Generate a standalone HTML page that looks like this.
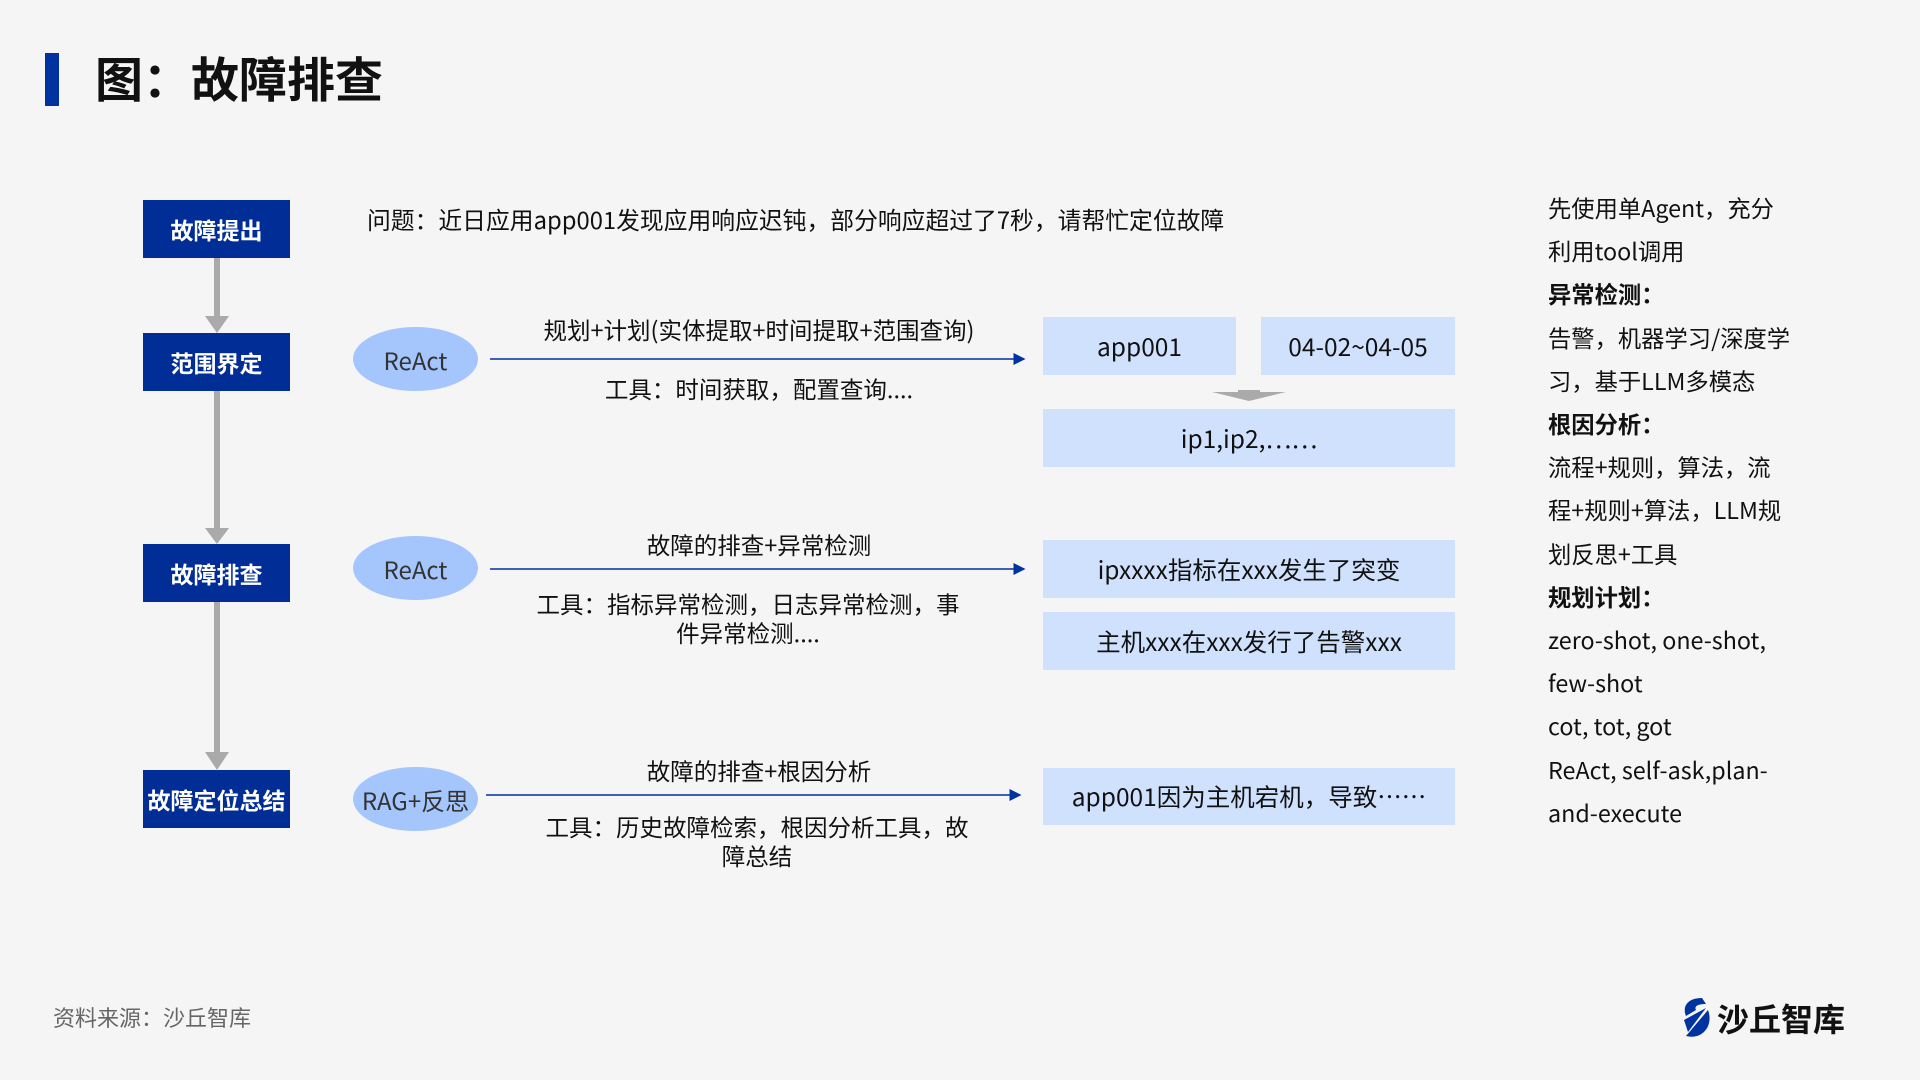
<!DOCTYPE html>
<html><head><meta charset="utf-8"><style>
body{margin:0;width:1920px;height:1080px;background:#f5f5f5;font-family:"Noto Sans CJK SC","Liberation Sans",sans-serif;position:relative;overflow:hidden;color:#111}
.a{position:absolute;line-height:1.2}
.lb{position:absolute;background:#002d96;color:#fff;font-size:23px;font-weight:bold;display:flex;align-items:center;justify-content:center;left:143px;width:147px;height:58px}
.el{position:absolute;left:353px;width:125px;height:64px;border-radius:50%;background:#a4c6fd;color:#333;font-size:24px;display:flex;align-items:center;justify-content:center}
.bx{position:absolute;background:#d0e1fd;font-size:24.5px;display:flex;align-items:center;justify-content:center;color:#111}
.t{position:absolute;font-size:23.5px;text-align:center;line-height:29px}
.r{position:absolute;left:1548px;font-size:23.3px;line-height:43.2px;top:186px;width:320px}
</style></head><body>
<div class="a" style="left:45px;top:53px;width:14px;height:53px;background:#0032a0"></div>
<div class="a" style="left:95px;top:48px;font-size:48px;font-weight:bold;color:#111">图：故障排查</div>

<svg class="a" style="left:0;top:0" width="1920" height="1080">
<defs><marker id="m" markerWidth="8" markerHeight="8" refX="7" refY="4" orient="auto"><path d="M0,0 L8,4 L0,8 z" fill="#0032a0"/></marker></defs>
<g stroke="#aaa" stroke-width="6">
<line x1="217" y1="257" x2="217" y2="318"/><line x1="217" y1="391" x2="217" y2="530"/><line x1="217" y1="601" x2="217" y2="754"/></g>
<g fill="#aaa"><path d="M205,316 L229,316 L217,333 z"/><path d="M205,528 L229,528 L217,544 z"/><path d="M205,752 L229,752 L217,770 z"/>
<path d="M1238,390 L1260,390 L1260,392 L1286,392 L1249,401 L1212,392 L1238,392 z"/></g>
<g stroke="#0032a0" stroke-width="1.5" marker-end="url(#m)">
<line x1="490" y1="359" x2="1024" y2="359"/><line x1="490" y1="569" x2="1024" y2="569"/><line x1="486" y1="795" x2="1020" y2="795"/></g>
</svg>

<div class="lb" style="top:200px">故障提出</div>
<div class="lb" style="top:333px">范围界定</div>
<div class="lb" style="top:544px">故障排查</div>
<div class="lb" style="top:770px">故障定位总结</div>

<div class="el" style="top:327px">ReAct</div>
<div class="el" style="top:536px">ReAct</div>
<div class="el" style="top:767px">RAG+反思</div>

<div class="a" style="left:367px;top:205px;font-size:23.8px">问题：近日应用app001发现应用响应迟钝，部分响应超过了7秒，请帮忙定位故障</div>
<div class="t" style="left:459px;width:600px;top:315px">规划+计划(实体提取+时间提取+范围查询)</div>
<div class="t" style="left:459px;width:600px;top:374px">工具：时间获取，配置查询....</div>
<div class="t" style="left:459px;width:600px;top:530px">故障的排查+异常检测</div>
<div class="t" style="left:528px;width:440px;top:589px">工具：指标异常检测，日志异常检测，事件异常检测....</div>
<div class="t" style="left:537px;width:440px;top:812px">工具：历史故障检索，根因分析工具，故障总结</div>
<div class="t" style="left:459px;width:600px;top:756px">故障的排查+根因分析</div>

<div class="bx" style="left:1043px;top:317px;width:193px;height:58px">app001</div>
<div class="bx" style="left:1261px;top:317px;width:194px;height:58px">04-02~04-05</div>
<div class="bx" style="left:1043px;top:409px;width:412px;height:58px">ip1,ip2,……</div>
<div class="bx" style="left:1043px;top:540px;width:412px;height:58px">ipxxxx指标在xxx发生了突变</div>
<div class="bx" style="left:1043px;top:612px;width:412px;height:58px">主机xxx在xxx发行了告警xxx</div>
<div class="bx" style="left:1043px;top:768px;width:412px;height:57px">app001因为主机宕机，导致……</div>

<div class="r">先使用单Agent，充分<br>利用tool调用<br><b>异常检测：</b><br>告警，机器学习/深度学<br>习，基于LLM多模态<br><b>根因分析：</b><br>流程+规则，算法，流<br>程+规则+算法，LLM规<br>划反思+工具<br><b>规划计划：</b><br>zero-shot, one-shot,<br>few-shot<br>cot, tot, got<br>ReAct, self-ask,plan-<br>and-execute</div>

<div class="a" style="left:53px;top:1004px;font-size:22px;color:#666">资料来源：沙丘智库</div>
<svg class="a" style="left:1680px;top:996px" width="34" height="44"><path d="M22,2 C8,2 2,10 6,20 L16,14 C14,10 18,8 26,8 z" fill="#0032a0"/><path d="M28,14 L6,40 C22,44 34,30 28,14 z" fill="#0032a0"/><path d="M4,24 L26,12 L8,36 z" fill="#0032a0"/></svg>
<div class="a" style="left:1717px;top:999px;font-size:32px;font-weight:bold;color:#111">沙丘智库</div>
</body></html>
